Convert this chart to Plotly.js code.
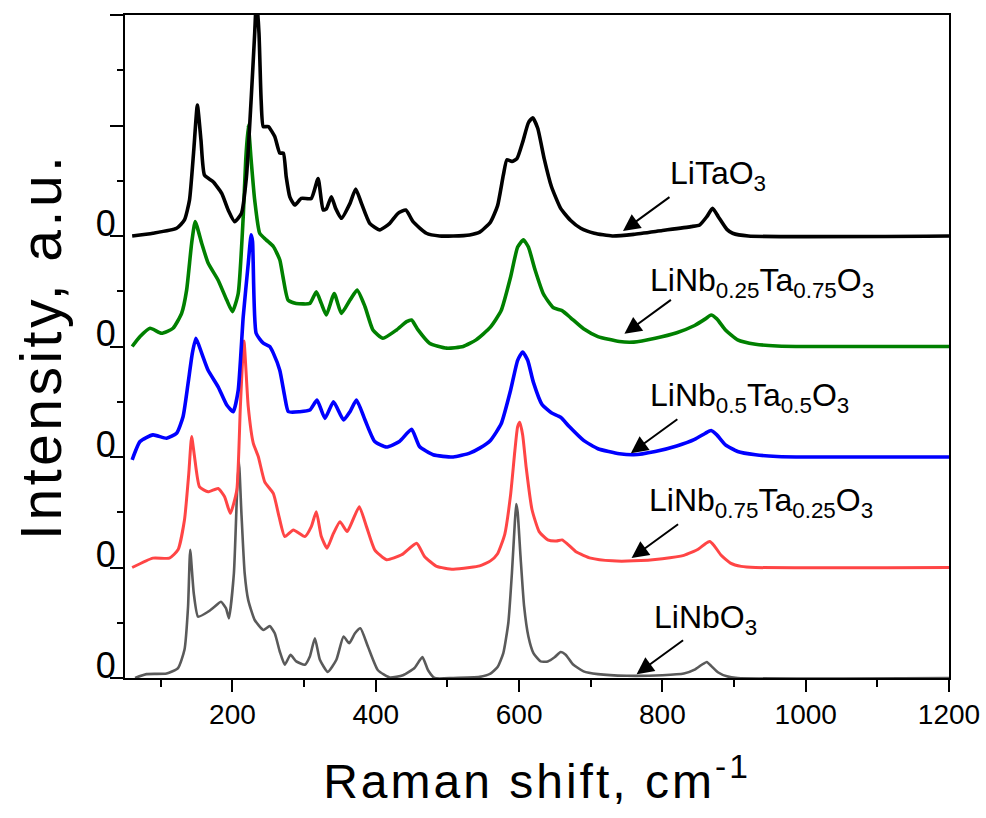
<!DOCTYPE html>
<html>
<head>
<meta charset="utf-8">
<script src="https://cdn.plot.ly/plotly-3.0.1.min.js"></script>
<style>
html,body{margin:0;padding:0;background:#fff}
#chart{width:986px;height:818px}
#chart .xtitle{letter-spacing:3px}
#chart .annotation[data-index="10"] text{letter-spacing:3.5px}
</style>
</head>
<body>
<div id="chart"></div>
<script>
// Raman spectra (x in cm^-1, intensity in a.u., each series offset by its baseline)
const offsets = [0, 2, 4, 6, 8];
const names = ['LiNbO<sub>3</sub>', 'LiNb<sub>0.75</sub>Ta<sub>0.25</sub>O<sub>3</sub>', 'LiNb<sub>0.5</sub>Ta<sub>0.5</sub>O<sub>3</sub>', 'LiNb<sub>0.25</sub>Ta<sub>0.75</sub>O<sub>3</sub>', 'LiTaO<sub>3</sub>'];
const colors = ['#5a5a5a', '#ff4545', '#0000ff', '#008000', '#000000'];
const widths = [2.6, 3, 3.6, 3.6, 3.6];

const xLiNbO3 = [64,80,108,124,133,138,141,146,152,166,175,184,191,195,202,206.5,209,212.5,217,222,231,243,252,259,266,273,281,289,301,308,315,322,333,345,355,363,371,378.5,389,403,419.5,438,454,465,473,482,508,545,560,570,578,585,590,594,596,598,602,607,613,620,630,640,650,658,665,675,690,710,750,800,830,845,855,862,868,878,890,905,1200];
const yLiNbO3 = [0,0.07,0.08,0.18,0.51,1.29,2.32,1.53,1.11,1.2,1.29,1.38,1.26,1.08,1.9,3.4,3.92,2.98,1.9,1.41,1.05,0.87,0.94,0.81,0.48,0.24,0.42,0.3,0.24,0.39,0.72,0.33,0.11,0.33,0.75,0.63,0.81,0.9,0.57,0.14,0.01,0.05,0.18,0.38,0.14,0,0,0.02,0.08,0.2,0.45,1.0,1.9,2.8,3.15,3.0,2.2,1.3,0.75,0.45,0.3,0.3,0.38,0.47,0.42,0.25,0.12,0.07,0.04,0.05,0.08,0.15,0.24,0.29,0.22,0.1,0.03,0,0];

const xNb75 = [60,89,112,124,133,139,143,147,154,166,180,189,197,206,211,216,222,229,236,245,257,265,273,285,301,310,317,324,332,340,350,360,368,377,387,398.5,415,436,457,468,485,508,531,545,560,570,580,588,594,598,601,605,610,618,628,640,652,660,668,680,700,730,760,800,830,850,860,866,872,882,895,910,930,1200];
const yNb75 = [0,0.17,0.17,0.32,0.86,1.7,2.37,2.01,1.46,1.37,1.43,1.28,0.98,1.4,2.91,4.1,2.91,2.25,2.01,1.55,1.34,0.92,0.56,0.68,0.56,0.74,1.01,0.56,0.35,0.59,0.83,0.65,0.86,1.1,0.74,0.32,0.14,0.23,0.44,0.2,0.02,-0.03,0,0.03,0.12,0.25,0.6,1.3,2.1,2.55,2.63,2.4,1.8,1.05,0.65,0.5,0.48,0.5,0.42,0.28,0.17,0.12,0.12,0.16,0.22,0.33,0.43,0.47,0.4,0.22,0.08,0.02,0,0];

const xNb50 = [60,71,89,108,122,131,138,144,149,157,166,180,192,201,208,215,222,226,228,233,243,252,257,266,273,278,294,308,318,329,341,355,364,373,385,398.5,415,433,450,461,480,508,531,545,560,575,588,598,605,612,620,632,645,658,670,690,710,740,760,790,820,845,860,868,876,888,905,930,960,1000,1200];
const yNb50 = [-0.05,0.28,0.4,0.34,0.43,0.73,1.33,1.88,2.15,1.88,1.57,1.27,0.94,0.82,1.21,2.54,3.5,4.02,3.9,2.24,2.06,2.0,1.88,1.57,1.09,0.82,0.82,0.85,1.03,0.7,1.0,0.67,0.82,1.03,0.67,0.28,0.18,0.28,0.5,0.19,0.04,0,0.07,0.16,0.3,0.6,1.2,1.75,1.9,1.75,1.35,0.95,0.8,0.72,0.55,0.3,0.15,0.06,0.04,0.1,0.2,0.32,0.43,0.48,0.4,0.22,0.1,0.04,0.01,0,0];

const xNb25 = [60,71,85,101,117,129,136,143,148,157,166,180,192,200,208,215,218.5,222,226,231,238,247,257,266,270.5,277.6,289,308,317,324,331,342,352,364,374,385,396,410,429,443,450,459,475,499,522,540,560,575,588,598,606,613,622,634,648,660,672,690,710,740,760,790,820,845,860,868,876,888,905,930,960,1000,1200];
const yNb25 = [0,0.18,0.33,0.24,0.33,0.6,1.02,1.87,2.26,1.87,1.51,1.2,0.84,0.63,0.96,2.35,3.38,4.01,3.38,2.65,2.05,1.93,1.81,1.57,1.26,0.84,0.78,0.78,0.99,0.78,0.57,0.96,0.6,0.84,1.02,0.72,0.3,0.15,0.3,0.45,0.48,0.3,0.06,-0.03,0,0.12,0.35,0.65,1.25,1.8,1.93,1.8,1.4,0.95,0.7,0.65,0.52,0.32,0.18,0.09,0.08,0.15,0.25,0.38,0.5,0.57,0.5,0.3,0.12,0.04,0.01,0,0];

const xLiTaO3 = [60,89,122,133,140,146,151,156,161,173,185,194,203,212.5,219.5,226,231,233.5,237,240,243,250,259,266,271,275,280,287,296,310,319.5,326.5,331,338,344,352,364,372,380,391.5,405.5,419.5,431,442,452,470.6,489,508,531,545,560,570,578,583,590,597,605,613,619,626,635,645,658,672,686,705,730,760,800,840,852,862,870,878,890,898,920,1200];
const yLiTaO3 = [0,0.05,0.14,0.29,0.65,1.56,2.37,1.74,1.1,0.98,0.77,0.47,0.26,0.41,1.07,2.46,3.67,4.3,3.67,2.46,1.98,1.98,1.8,1.5,1.5,1.07,0.71,0.56,0.68,0.68,1.04,0.47,0.49,0.71,0.5,0.32,0.59,0.85,0.59,0.23,0.11,0.23,0.41,0.47,0.26,0.05,0,0,0.02,0.07,0.25,0.55,1.1,1.38,1.35,1.4,1.7,2.05,2.14,1.95,1.4,0.9,0.5,0.28,0.14,0.05,0,0.03,0.1,0.17,0.2,0.35,0.5,0.35,0.12,0.05,0,0];

const seriesX = [xLiNbO3, xNb75, xNb50, xNb25, xLiTaO3];
const seriesY = [yLiNbO3, yNb75, yNb50, yNb25, yLiTaO3];

// label anchors (data coords) and arrow heads
const labelX = [785, 778, 780, 780, 808];
const labelY = [1.06, 3.18, 5.08, 7.16, 9.09];
const arrowX = [764, 757, 756, 747, 745];
const arrowY = [0.07, 2.17, 4.07, 6.23, 8.09];

const traces = seriesX.map((xs, i) => ({
  x: xs,
  y: seriesY[i].map(v => v + offsets[i]),
  type: 'scatter',
  mode: 'lines',
  name: names[i],
  line: {color: colors[i], width: widths[i], shape: 'spline', smoothing: 0.5},
  showlegend: false,
  hoverinfo: 'skip'
}));

const font = 'Liberation Sans, Arial, sans-serif';
const annotations = [];
names.forEach((n, i) => {
  annotations.push({x: labelX[i], y: labelY[i], xref: 'x', yref: 'y', text: n, showarrow: false,
    xanchor: 'left', yanchor: 'middle', font: {family: font, size: 32, color: '#000'}});
  annotations.push({x: arrowX[i], y: arrowY[i], xref: 'x', yref: 'y', text: '', showarrow: true,
    arrowhead: 2, arrowsize: 1.7, arrowwidth: 2, arrowcolor: '#000', ax: 48, ay: -35});
});
// y-axis title (index 10)
annotations.push({x: -0.103, y: 0.5, xref: 'paper', yref: 'paper', text: 'Intensity, a.u.', textangle: -90,
  showarrow: false, xanchor: 'center', yanchor: 'middle', font: {family: font, size: 57, color: '#000'}});

const layout = {
  width: 986, height: 818,
  margin: {l: 125, r: 37, t: 15, b: 140},
  paper_bgcolor: '#fff', plot_bgcolor: '#fff',
  font: {family: font, color: '#000'},
  xaxis: {
    range: [50, 1200], tick0: 0, dtick: 200, ticks: 'outside', ticklen: 12, tickwidth: 2,
    tickcolor: '#000', showgrid: false, zeroline: false, showline: true, linewidth: 2, linecolor: '#000',
    mirror: true, tickfont: {size: 28}, ticklabelstandoff: -2,
    minor: {dtick: 100, ticks: 'outside', ticklen: 7, tickwidth: 2, tickcolor: '#000', showgrid: false},
    title: {text: 'Raman shift, cm<sup>-1</sup>', font: {size: 48}, standoff: 36}
  },
  yaxis: {
    range: [0, 12], tickmode: 'array', tickvals: [0, 2, 4, 6, 8, 10, 12], ticktext: ['0', '0', '0', '0', '0', '', ''],
    ticks: 'outside', ticklen: 13, tickwidth: 2, tickcolor: '#000', showgrid: false, zeroline: false,
    showline: true, linewidth: 2, linecolor: '#000', mirror: true, tickfont: {size: 36}, ticklabelshift: -13,
    ticklabelstandoff: -13,
    minor: {tickvals: [1, 3, 5, 7, 9, 11], ticks: 'outside', ticklen: 6, tickwidth: 2, tickcolor: '#000', showgrid: false}
  },
  annotations: annotations
};

Plotly.newPlot('chart', traces, layout, {displayModeBar: false, staticPlot: true});
</script>
</body>
</html>
